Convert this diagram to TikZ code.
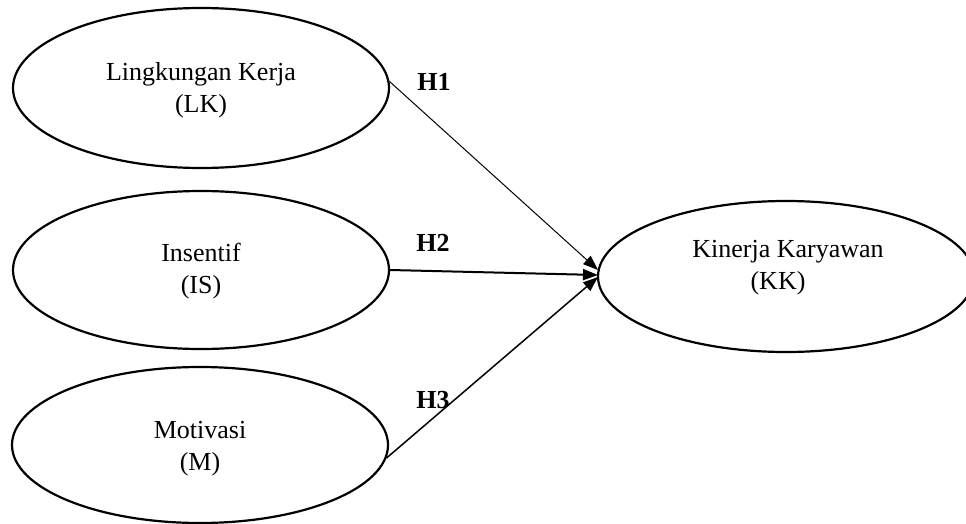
\documentclass[tikz,border=0pt]{standalone}
\usepackage{fontspec}
\setmainfont{Liberation Serif}
\usetikzlibrary{shapes.geometric,arrows.meta}
\tikzset{
  ell/.style={ellipse, draw, line width=2.2pt, inner sep=0pt, minimum width=376pt},
  txt/.style={align=center, font=\fontsize{26}{32}\selectfont},
  hlab/.style={font=\fontsize{26}{30}\selectfont\bfseries},
  conn/.style={-{Triangle[length=15pt,width=11pt]}}
}
\begin{document}
\begin{tikzpicture}[x=1pt,y=-1pt]
\useasboundingbox (0,0) rectangle (966,524);
\node[ell, minimum height=160pt] (LK) at (201,88) {};
\node[ell, minimum height=158pt] (IS) at (201,270) {};
\node[ell, minimum height=156pt] (M) at (200,445) {};
\node[ell, minimum height=151pt] (KK) at (786,276.5) {};
\node[txt] (LKt) at (201,90) {Lingkungan Kerja\\(LK)};
\node[txt] (ISt) at (201,271) {Insentif\\(IS)};
\node[txt] (Mt) at (200,449) {Motivasi\\(M)};
\node[txt] (KKt) at (788,268) {Kinerja Karyawan\\(KK)\hspace*{20pt}};
\coordinate (T1) at (598,270);
\coordinate (T2) at (598,275);
\coordinate (T3) at (598,277);
\draw[conn, line width=1pt] (LK.2) -- (T1);
\draw[conn, line width=2pt] (IS.east) -- (T2);
\draw[conn, line width=1.5pt] (M.-4) -- (T3);
\node[hlab] (H1) at (434,82) {H1};
\node[hlab] (H2) at (433,243) {H2};
\node[hlab] (H3) at (433,400) {H3};
\end{tikzpicture}
\end{document}
